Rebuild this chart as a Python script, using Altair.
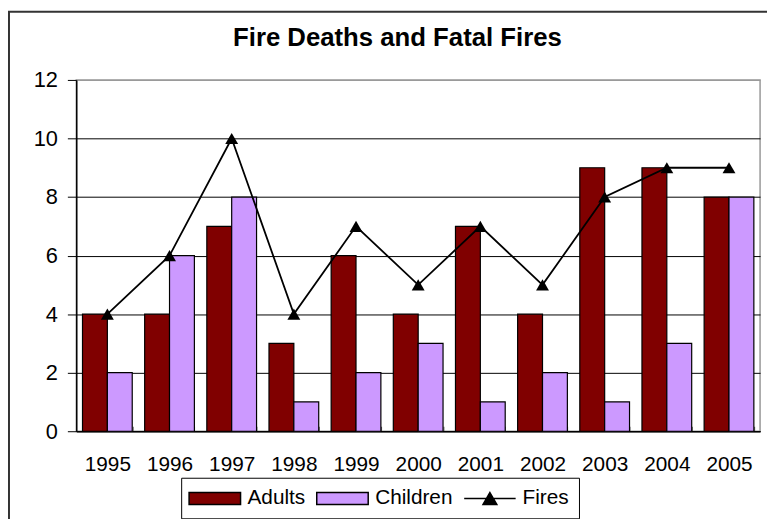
import altair as alt
import pandas as pd

years = ["1995", "1996", "1997", "1998", "1999", "2000", "2001", "2002", "2003", "2004", "2005"]
adults = [4, 4, 7, 3, 6, 4, 7, 4, 9, 9, 8]
children = [2, 6, 8, 1, 2, 3, 1, 2, 1, 3, 8]
fires = [4, 6, 10, 4, 7, 5, 7, 5, 8, 9, 9]
series_names = ["Adults", "Children", "Fires"]
series_colors = ["#800000", "#CC99FF", "#000000"]
y_ticks = [0, 2, 4, 6, 8, 10, 12]

bars_df = pd.DataFrame({
    "year": years * 2,
    "series": ["Adults"] * len(years) + ["Children"] * len(years),
    "value": adults + children,
})
fires_df = pd.DataFrame({"year": years, "value": fires})

W, H = 691, 355
FONT = "Liberation Sans"

x_scale = alt.Scale(domain=years, paddingInner=0.2, paddingOuter=0.1)
y_scale = alt.Scale(domain=[0, 12], nice=False)

x_axis = alt.Axis(
    title=None, labelAngle=0, labelFontSize=21, labelColor="black", labelFont=FONT,
    domainColor="black", domainWidth=1.5, tickColor="#555555", tickBand="extent",
    tickSize=alt.ExprRef("-5"), labelPadding=28, grid=False,
)
y_axis = alt.Axis(
    title=None, values=y_ticks, labelFontSize=22, labelColor="black", labelFont=FONT,
    domainColor="black", domainWidth=1.5, tickColor="black", tickSize=9, labelPadding=10,
    grid=True, gridColor={"condition": {"test": "datum.value == 12", "value": "#999999"}, "value": "#000000"},
    gridWidth=1,
)

rect_path = "M-2.6,-0.6H2.6V0.6H-2.6Z"
fires_path = "M-2.6,0H2.6M0,-0.6L0.7,0.6H-0.7Z"

legend = alt.Legend(
    title=None, orient="none", legendX=106, legendY=402, direction="horizontal",
    symbolSize=400, symbolOffset=13, labelOffset=22, labelFontSize=21, labelFont=FONT,
    labelColor="black", padding=10, strokeColor="black", columnPadding=8,
    symbolStrokeColor="black", symbolStrokeWidth=1.5,
    symbolType=alt.ExprRef(f"datum.value === 'Fires' ? '{fires_path}' : '{rect_path}'"),
)

frame = alt.Chart(pd.DataFrame({"k": [0]})).mark_rect(
    filled=False, stroke="#333333", strokeWidth=2
).encode(
    x=alt.value(-68), x2=alt.value(W + 60), y=alt.value(-69), y2=alt.value(H + 140)
)

bars = alt.Chart(bars_df).mark_bar(stroke="black", strokeWidth=1.2).encode(
    x=alt.X("year:N", scale=x_scale, axis=x_axis, sort=years),
    xOffset=alt.XOffset("series:N", scale=alt.Scale(domain=["Adults", "Children"], paddingInner=0, paddingOuter=0)),
    y=alt.Y("value:Q", scale=y_scale, axis=y_axis),
    color=alt.Color("series:N", scale=alt.Scale(domain=series_names, range=series_colors), legend=legend),
)

line = alt.Chart(fires_df).mark_line(
    color="black", strokeWidth=1.8,
    point=alt.OverlayMarkDef(shape="triangle-up", filled=True, color="black", size=170, opacity=1),
).encode(
    x=alt.X("year:N", sort=years),
    y=alt.Y("value:Q"),
)

chart = alt.layer(frame, bars, line).properties(
    width=W, height=H,
    title=alt.Title("Fire Deaths and Fatal Fires", fontSize=26, fontWeight="bold", font=FONT,
                    color="black", anchor="middle", dx=-21, dy=41, offset=0),
    padding={"left": 69, "top": 70, "right": 7, "bottom": 86},
    autosize=alt.AutoSizeParams(type="none"),
).configure(font=FONT).configure_view(stroke="#999999", strokeWidth=1.5)

chart.save("out.html", embed_options={"renderer": "svg", "actions": False})
